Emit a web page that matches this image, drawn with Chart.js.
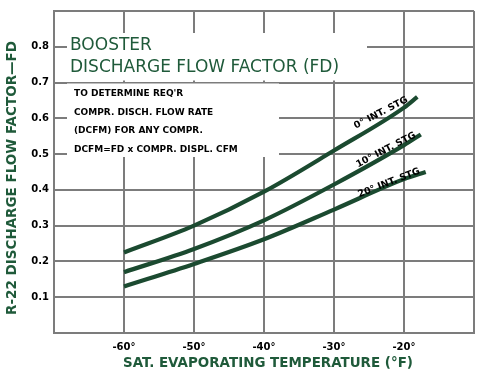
<!DOCTYPE html>
<html>
<head>
<meta charset="utf-8">
<script src="https://cdn.jsdelivr.net/npm/chart.js@4.4.1/dist/chart.umd.min.js"></script>
<style>
html,body{margin:0;padding:0;background:#fff;}
#wrap{width:482px;height:373px;position:relative;}
</style>
</head>
<body>
<div id="wrap"><canvas id="c" width="482" height="373"></canvas></div>
<script>
// Data
const temps0 = [-60, -50, -40, -30, -20, -18.1];
const flow0  = [0.225, 0.30, 0.395, 0.51, 0.63, 0.66];
const temps10 = [-60, -50, -40, -30, -20, -17.6];
const flow10  = [0.17, 0.235, 0.315, 0.415, 0.525, 0.555];
const temps20 = [-60, -50, -40, -30, -20, -16.9];
const flow20  = [0.13, 0.193, 0.262, 0.345, 0.43, 0.45];
const seriesLabels = ["0° INT. STG", "10° INT. STG", "20° INT. STG"];
const xTickValues = [-60, -50, -40, -30, -20];
const yTickValues = [0.1, 0.2, 0.3, 0.4, 0.5, 0.6, 0.7, 0.8];
const titleLines = ["BOOSTER", "DISCHARGE FLOW FACTOR (FD)"];
const noteLines = ["TO DETERMINE REQ'R", "COMPR. DISCH. FLOW RATE", "(DCFM) FOR ANY COMPR.", "DCFM=FD x COMPR. DISPL. CFM"];
const xTitle = "SAT. EVAPORATING TEMPERATURE (°F)";
const yTitle = "R-22 DISCHARGE FLOW FACTOR—FD";

const GREEN = '#1f5a3a';
const GRID = '#7c7c7c';
const LINE = '#1b4a30';

function pts(xs, ys){ return xs.map((x,i)=>({x:x, y:ys[i]})); }

const overlay = {
  id: 'overlay',
  beforeDatasetsDraw(chart){
    const ctx = chart.ctx;
    ctx.save();
    ctx.fillStyle = '#fff';
    ctx.fillRect(67, 33, 300, 47.5);
    ctx.fillRect(67, 83.5, 212, 73.5);
    ctx.restore();
  },
  afterDatasetsDraw(chart){
    const ctx = chart.ctx;
    ctx.save();
    // inner title
    ctx.fillStyle = GREEN;
    ctx.textBaseline = 'alphabetic';
    ctx.textAlign = 'left';
    ctx.font = '17px "DejaVu Sans"';
    ctx.fillText(titleLines[0], 70, 50, 88);
    ctx.fillText(titleLines[1], 70, 72, 290);
    // note
    ctx.fillStyle = '#000';
    ctx.font = 'bold 9px "DejaVu Sans"';
    const noteW = [136, 174, 171, 204];
    noteLines.forEach((t,i)=>{ ctx.fillText(t, 74, 96 + i*18.5, noteW[i]); });
    // curve labels
    ctx.font = 'bold 9.5px "DejaVu Sans"';
    ctx.textAlign = 'center';
    ctx.textBaseline = 'middle';
    const lab = [[381,113,-27.5],[386,150,-27.5],[389,183,-21.5]];
    lab.forEach((l,i)=>{
      ctx.save();
      ctx.translate(l[0], l[1]);
      ctx.rotate(l[2]*Math.PI/180);
      ctx.fillText(seriesLabels[i], 0, 0, 80);
      ctx.restore();
    });
    // axis titles
    ctx.fillStyle = GREEN;
    ctx.font = 'bold 13.5px "DejaVu Sans"';
    ctx.fillText(xTitle, 268, 363, 290);
    ctx.save();
    ctx.translate(12, 178);
    ctx.rotate(-Math.PI/2);
    ctx.font = 'bold 13.5px "DejaVu Sans"';
    ctx.fillText(yTitle, 0, 0, 290);
    ctx.restore();
    ctx.restore();
  }
};

const ds = (d)=>({
  data: d, borderColor: LINE, borderWidth: 4.2, pointRadius: 0,
  fill: false, cubicInterpolationMode: 'monotone'
});

new Chart(document.getElementById('c'), {
  type: 'line',
  data: { datasets: [ds(pts(temps0, flow0)), ds(pts(temps10, flow10)), ds(pts(temps20, flow20))] },
  options: {
    responsive: false, animation: false,
    layout: { padding: { top: 10, right: 3, left: 0, bottom: 0 } },
    plugins: { legend: { display: false }, tooltip: { enabled: false } },
    scales: {
      x: {
        type: 'linear', min: -70, max: -10,
        afterBuildTicks(s){ s.ticks = [-70,-60,-50,-40,-30,-20,-10].map(v=>({value:v})); },
        afterFit(s){ s.height = 40; },
        grid: { color: GRID, lineWidth: 2, drawTicks: false },
        border: { color: GRID, width: 2 },
        ticks: {
          padding: 8, color: '#000', font: { family: 'DejaVu Sans', size: 10, weight: 'bold' },
          maxRotation: 0, autoSkip: false,
          callback: (v)=> xTickValues.includes(v) ? (v + '°') : ''
        }
      },
      y: {
        min: 0, max: 0.9,
        afterBuildTicks(s){ s.ticks = [0,0.1,0.2,0.3,0.4,0.5,0.6,0.7,0.8,0.9].map(v=>({value:v})); },
        afterFit(s){ s.width = 54; },
        grid: { color: GRID, lineWidth: 2, drawTicks: false },
        border: { color: GRID, width: 2 },
        ticks: {
          padding: 5, color: '#000', font: { family: 'DejaVu Sans', size: 10, weight: 'bold' },
          autoSkip: false,
          callback: (v)=> yTickValues.some(t=>Math.abs(t-v)<1e-6) ? v.toFixed(1) : ''
        }
      }
    }
  },
  plugins: [overlay]
});
</script>
</body>
</html>
